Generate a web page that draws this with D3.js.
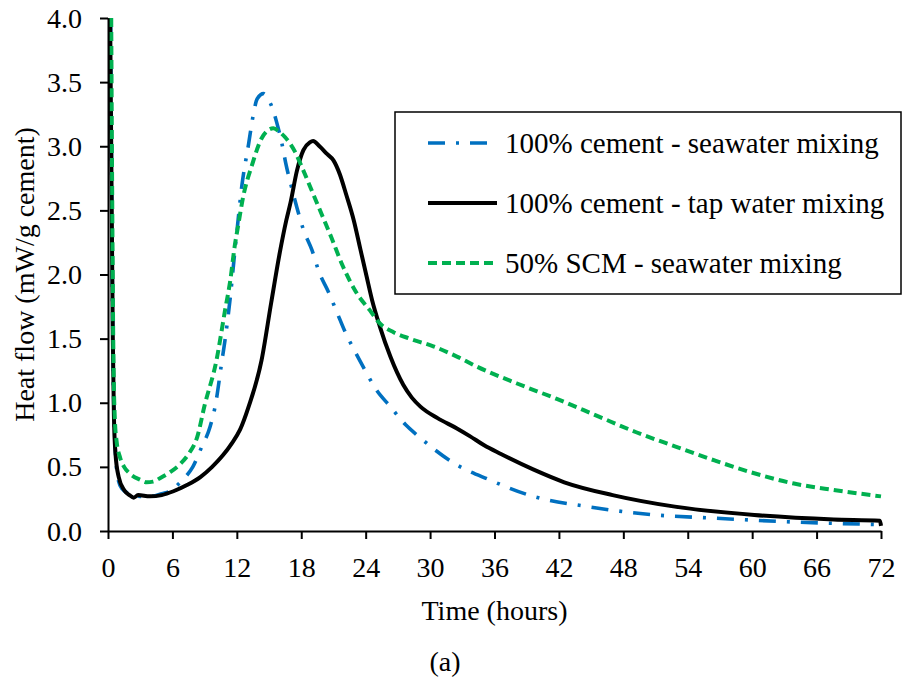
<!DOCTYPE html>
<html>
<head>
<meta charset="utf-8">
<script src="https://cdn.jsdelivr.net/npm/d3@7"></script>
<style>
  html, body { margin: 0; padding: 0; background: #fff; }
  svg text { font-family: "Liberation Serif", "Times New Roman", Times, serif !important; fill: #000; }
</style>
</head>
<body>
<svg id="chart" width="910" height="686"></svg>
<script>
// ---- Data ----
const seaCementT = [0.25,0.35,0.45,0.6,0.9,1.3,2,3,4,5,6,6.5,7.2,7.9,8.7,9.5,10,10.6,10.9,11.4,11.8,12,12.45,13.1,13.5,13.9,14.5,14.9,15.3,15.7,16.2,16.6,17.1,17.6,18.2,19,19.7,20.5,21.3,22.1,23,23.9,25,26.3,27.7,28.9,30.5,32.2,35.5,39.6,44.7,51,56.5,63.9,72];
const seaCementV = [4.0,2.6,1.5,0.8,0.42,0.33,0.29,0.27,0.27,0.29,0.32,0.36,0.42,0.5,0.65,0.81,0.98,1.32,1.49,1.83,2.17,2.33,2.68,3.02,3.23,3.37,3.41,3.37,3.3,3.19,3.02,2.85,2.68,2.52,2.35,2.19,2.01,1.87,1.71,1.55,1.4,1.26,1.1,0.97,0.83,0.74,0.63,0.53,0.4,0.27,0.19,0.125,0.1,0.07,0.05];

const tapCementT = [0.2,0.35,0.45,0.55,0.7,1.0,1.5,2.0,2.4,2.8,3.9,5.0,6.1,7.4,8.6,9.7,10.7,11.5,12.3,13.1,14.3,15.2,16.0,16.6,17.0,17.6,18.2,18.8,19.1,19.7,20.4,21.0,21.6,22.2,22.9,23.5,24.1,24.6,25.3,26.3,27.5,28.3,29.1,30.7,32.5,33.7,35.0,36.6,39.6,42.5,47.0,52.8,60.2,67.6,71.9,72];
const tapCementV = [4.0,2.5,1.5,0.9,0.6,0.42,0.32,0.28,0.26,0.28,0.27,0.28,0.31,0.36,0.42,0.5,0.59,0.68,0.79,0.97,1.33,1.78,2.17,2.42,2.56,2.81,2.97,3.03,3.04,3.0,2.94,2.89,2.78,2.62,2.42,2.2,1.98,1.8,1.6,1.36,1.14,1.04,0.97,0.88,0.8,0.74,0.67,0.6,0.48,0.38,0.28,0.19,0.125,0.09,0.08,0.04];

const scmSeaT = [0.3,0.4,0.5,0.65,0.8,1.1,1.5,2.0,3.0,3.6,4.2,4.8,5.8,6.7,7.5,8.3,9.0,10.1,10.9,11.4,11.8,12.1,12.6,13.4,14.3,15.0,15.4,16.0,16.5,17.4,18.2,19.1,20.0,20.8,21.9,23.2,24.4,25.3,26.6,28.1,30.3,32.5,34.4,38.1,41.8,45.5,49.2,52.8,56.5,60.2,63.9,67.6,72];
const scmSeaV = [4.0,2.5,1.4,0.85,0.7,0.58,0.5,0.45,0.4,0.38,0.385,0.41,0.46,0.52,0.6,0.73,0.98,1.33,1.72,1.96,2.22,2.37,2.61,2.85,3.06,3.13,3.14,3.11,3.07,2.96,2.81,2.63,2.45,2.29,2.06,1.85,1.72,1.62,1.55,1.5,1.44,1.36,1.28,1.15,1.03,0.9,0.77,0.66,0.55,0.45,0.37,0.32,0.27];

const seriesNames = ["100% cement - seawater mixing", "100% cement - tap water mixing", "50% SCM - seawater mixing"];
const xTicks = [0,6,12,18,24,30,36,42,48,54,60,66,72];
const yTicks = [0.0,0.5,1.0,1.5,2.0,2.5,3.0,3.5,4.0];
const xTitle = "Time (hours)";
const yTitle = "Heat flow (mW/g cement)";
const caption = "(a)";

// ---- Layout ----
const svg = d3.select("#chart");
const L = 108, R = 881, T = 18, B = 531;
const FS = 28;

const x = d3.scaleLinear().domain([0, 72]).range([L, R]);
const y = d3.scaleLinear().domain([0, 4]).range([B, T]);

const styles = [
  { color: "#0070C0", width: 3.6, dash: "17,11,3,11" },
  { color: "#000000", width: 4, dash: null },
  { color: "#00B050", width: 4, dash: "9,5" }
];
const series = [
  { name: seriesNames[0], t: seaCementT, v: seaCementV, s: styles[0] },
  { name: seriesNames[1], t: tapCementT, v: tapCementV, s: styles[1] },
  { name: seriesNames[2], t: scmSeaT, v: scmSeaV, s: styles[2] }
];

svg.append("defs").append("clipPath").attr("id", "plotclip")
  .append("rect").attr("x", L).attr("y", T - 1).attr("width", R - L + 4).attr("height", B - T + 3);

const line = d3.line().x(d => x(d[0])).y(d => y(d[1])).curve(d3.curveMonotoneX);

const g = svg.append("g").attr("clip-path", "url(#plotclip)");
series.forEach(sr => {
  const pts = sr.t.map((t, i) => [t, sr.v[i]]);
  g.append("path")
    .attr("d", line(pts))
    .attr("fill", "none")
    .attr("stroke", sr.s.color)
    .attr("stroke-width", sr.s.width)
    .attr("stroke-dasharray", sr.s.dash)
    .attr("stroke-linejoin", "round");
});

// axes
const xAxis = d3.axisBottom(x).tickValues(xTicks).tickSize(8).tickSizeOuter(0).tickFormat(d3.format("d"));
const xg = svg.append("g").attr("transform", `translate(0,${B})`).call(xAxis);
xg.attr("font-family", null);
xg.selectAll("path, line").attr("stroke", "#000").attr("stroke-width", 2);
xg.selectAll("text").attr("font-size", FS).attr("y", 0).attr("dy", 0)
  .attr("transform", "translate(0,46)");

const yAxis = d3.axisLeft(y).tickValues(yTicks).tickSize(8).tickSizeOuter(0).tickFormat(d3.format(".1f"));
const yg = svg.append("g").attr("transform", `translate(${L},0)`).call(yAxis);
yg.attr("font-family", null);
yg.selectAll("path, line").attr("stroke", "#000").attr("stroke-width", 2);
yg.selectAll("text").attr("font-size", FS)
  .attr("x", -26).attr("dy", 0).attr("transform", "translate(0,9)");

// titles
svg.append("text").attr("x", (L + R) / 2).attr("y", 620).attr("text-anchor", "middle")
  .attr("font-size", FS).text(xTitle);
svg.append("text").attr("transform", `translate(34,${(T + B) / 2}) rotate(-90)`)
  .attr("text-anchor", "middle").attr("font-size", FS).text(yTitle);
svg.append("text").attr("x", 445).attr("y", 671).attr("text-anchor", "middle")
  .attr("font-size", FS).text(caption);

// legend
const lg = svg.append("g");
lg.append("rect").attr("x", 395).attr("y", 112).attr("width", 506).attr("height", 182)
  .attr("fill", "#fff").attr("stroke", "#000").attr("stroke-width", 1.5);
series.forEach((sr, i) => {
  const cy = 143 + i * 60;
  lg.append("line").attr("x1", 428).attr("x2", 497).attr("y1", cy).attr("y2", cy)
    .attr("stroke", sr.s.color).attr("stroke-width", sr.s.width)
    .attr("stroke-dasharray", sr.s.dash);
  lg.append("text").attr("x", 505).attr("y", cy + 10).attr("font-size", 29).text(sr.name);
});
</script>
</body>
</html>
